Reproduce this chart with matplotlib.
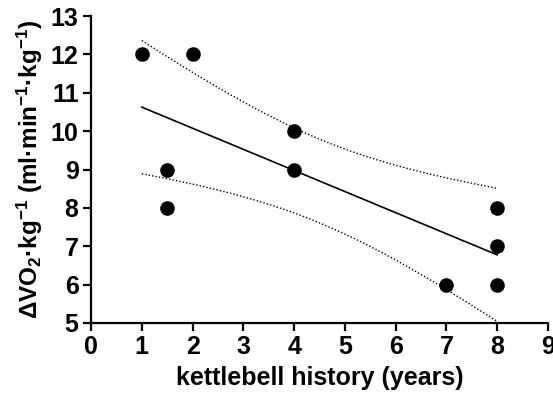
import numpy as np
import matplotlib
matplotlib.use("Agg")
import matplotlib.pyplot as plt

plt.rcParams['font.family'] = ['Liberation Sans', 'DejaVu Sans']
plt.rcParams['font.weight'] = 'bold'
plt.rcParams['mathtext.fontset'] = 'custom'
plt.rcParams['mathtext.rm'] = 'Liberation Sans:bold'
plt.rcParams['mathtext.bf'] = 'Liberation Sans:bold'
plt.rcParams['mathtext.it'] = 'Liberation Sans:bold'
plt.rcParams['mathtext.default'] = 'bf'

# data
history_years = [1, 2, 1.5, 1.5, 4, 4, 7, 8, 8, 8]
delta_vo2 = [12, 12, 9, 8, 10, 9, 6, 8, 7, 6]
x_ticks = [0, 1, 2, 3, 4, 5, 6, 7, 8, 9]
y_ticks = [5, 6, 7, 8, 9, 10, 11, 12, 13]

x = np.array(history_years, dtype=float)
y = np.array(delta_vo2, dtype=float)
n = len(x)
slope, intercept = np.polyfit(x, y, 1)
resid = y - (slope * x + intercept)
s = np.sqrt(np.sum(resid**2) / (n - 2))
xm = x.mean()
sxx = np.sum((x - xm)**2)
tcrit = 2.306  # t(0.975, 8)
xf = np.linspace(x.min(), x.max(), 200)
yf = slope * xf + intercept
se = s * np.sqrt(1/n + (xf - xm)**2 / sxx)
upper = yf + tcrit * se
lower = yf - tcrit * se

fig = plt.figure(figsize=(5.53, 4.0), dpi=100)
ax = fig.add_axes([0.1646, 0.1925, 0.8264, 0.7675])
ax.plot(xf, yf, color='black', lw=1.2, zorder=2)
ax.plot(xf, upper, color='black', lw=1.0, ls=(0, (1, 1.5)), zorder=2)
ax.plot(xf, lower, color='black', lw=1.0, ls=(0, (1, 1.5)), zorder=2)
ax.scatter(x, y, s=90, color='black', zorder=3, clip_on=False)

ax.set_xlim(0, 9)
ax.set_ylim(5, 13)
ax.set_xticks(x_ticks)
ax.set_yticks(y_ticks)
for sp in ['top', 'right']:
    ax.spines[sp].set_visible(False)
for sp in ['left', 'bottom']:
    ax.spines[sp].set_linewidth(1.6)
ax.tick_params(axis='both', direction='out', length=6, width=1.6, labelsize=18, pad=3)
for lab in ax.get_xticklabels() + ax.get_yticklabels():
    lab.set_fontweight('bold')
ax.set_xlabel('kettlebell history (years)', fontsize=18, fontweight='bold', labelpad=5)
ax.set_ylabel('ΔVO$_2$·kg$^{-1}$ (ml·min$^{-1}$·kg$^{-1}$)', fontsize=17.5, fontweight='bold', labelpad=4)

fig.savefig('out.png', dpi=100)
